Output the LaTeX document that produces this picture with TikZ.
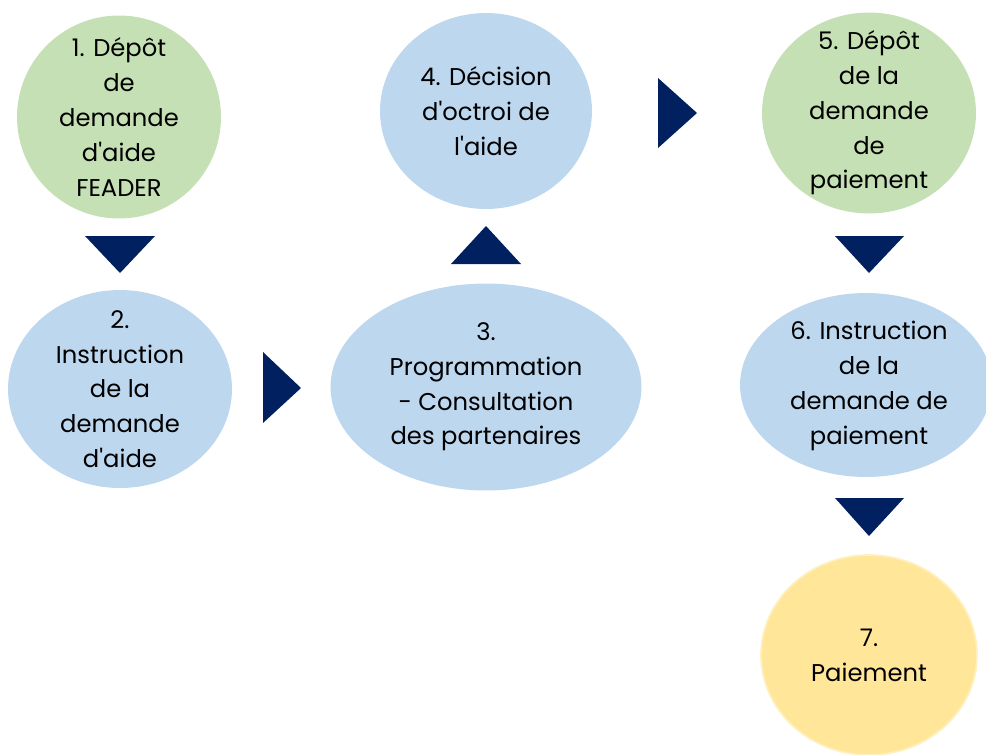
\documentclass[tikz,border=0pt]{standalone}
\usepackage{fontspec}
\setmainfont{Poppins}
\usepackage{tikz}
\usetikzlibrary{shapes.geometric}

\definecolor{stepgreen}{HTML}{C5E0B4}
\definecolor{stepblue}{HTML}{BDD7EE}
\definecolor{stepyellow}{HTML}{FFE699}
\definecolor{stepyellowline}{HTML}{FFF0C0}
\definecolor{arrownavy}{HTML}{002060}

\tikzset{
  stepnode/.style={ellipse, inner sep=0pt},
  steptext/.style={align=center, text=black, inner sep=0pt,
    font=\fontsize{13.8}{19.8}\selectfont},
  greenstep/.style={stepnode, fill=stepgreen},
  bluestep/.style={stepnode, fill=stepblue},
  yellowstep/.style={stepnode, fill=stepyellow, draw=stepyellowline, line width=1pt},
  arrowtri/.style={fill=arrownavy}
}
\newcommand{\apos}{\textquotesingle}

\begin{document}
\begin{tikzpicture}[x=0.02cm, y=-0.02cm]
        \useasboundingbox (0,0) rectangle (986,754);
        \clip (0,0) rectangle (986,754);
        % steps
        \node[greenstep, minimum width=4.08cm, minimum height=4.06cm] (depot) at (119,117) {};
        \node[steptext] at (depot) {1. Dépôt\\de\\demande\\d\apos aide\\FEADER};
        \node[bluestep, minimum width=4.48cm, minimum height=3.96cm] (instr) at (120,389) {};
        \node[steptext] at (instr) {2.\\Instruction\\de la\\demande\\d\apos aide};
        \node[bluestep, minimum width=6.22cm, minimum height=4.14cm] (prog) at (486,387) {};
        \node[steptext] at (prog) {3.\\Programmation\\- Consultation\\des partenaires};
        \node[bluestep, minimum width=4.24cm, minimum height=3.92cm] (decision) at (486,111) {};
        \node[steptext] at (decision) {4. Décision\\d\apos octroi de\\l\apos aide};
        \node[greenstep, minimum width=4.28cm, minimum height=4.02cm] (depotpaie) at (869,113) {};
        \node[steptext] at (depotpaie) {5. Dépôt\\de la\\demande\\de\\paiement};
        \node[bluestep, minimum width=5.04cm, minimum height=3.68cm] (instrpaie) at (866,385) {};
        \node[steptext] at (869,386) {6. Instruction\\de la\\demande de\\paiement};
        \node[yellowstep, minimum width=4.32cm, minimum height=4.0cm] (paiement) at (869,655) {};
        \node[steptext] at (paiement) {7.\\Paiement};
        % arrows
        \fill[arrowtri] (85,236) -- (155,236) -- (120,273) -- cycle;
        \fill[arrowtri] (263,352) -- (263,423) -- (301,388) -- cycle;
        \fill[arrowtri] (451,264) -- (521,264) -- (486,226) -- cycle;
        \fill[arrowtri] (658,78) -- (658,148) -- (697,113) -- cycle;
        \fill[arrowtri] (835,236) -- (904,236) -- (869,273) -- cycle;
        \fill[arrowtri] (835,498) -- (904,498) -- (869,536) -- cycle;
    \end{tikzpicture}
\end{document}
